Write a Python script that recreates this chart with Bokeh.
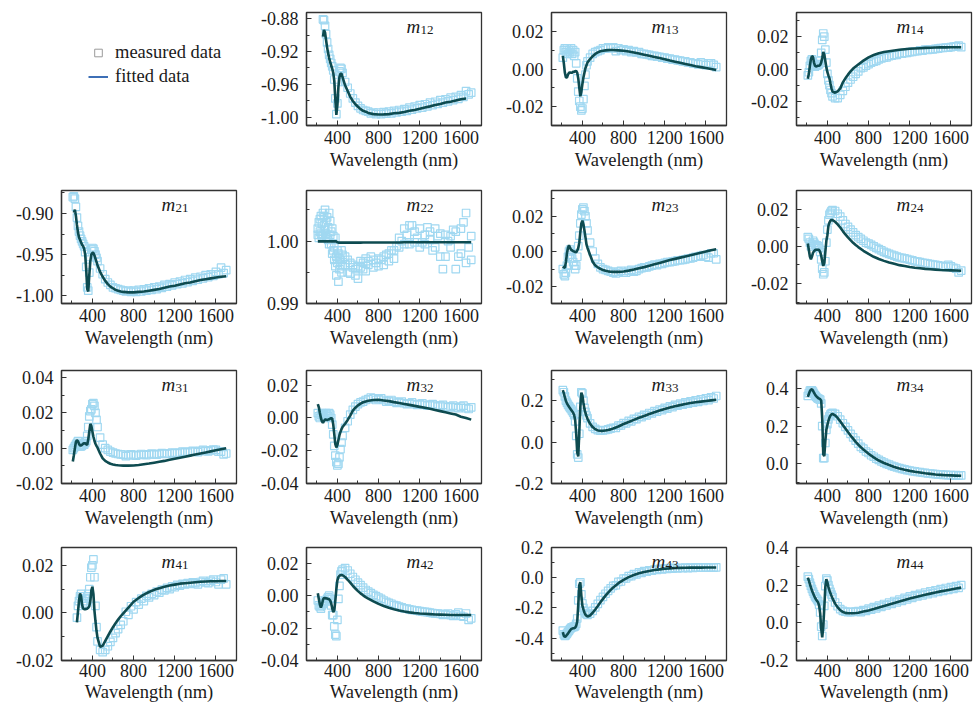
import math
from bokeh.plotting import figure
from bokeh.layouts import gridplot
from bokeh.models import FixedTicker, PrintfTickFormatter, Label, Legend, LegendItem, Range1d
from bokeh.embed import file_html
from bokeh.resources import INLINE

nan = float("nan")

wavelength = [210, 220, 230, 240, 250, 260, 270, 280, 290, 300, 310, 320, 330, 340, 350, 360, 370, 380, 390, 400,
              410, 420, 430, 440, 450, 475, 500, 525, 550, 575, 600, 625, 650, 675, 700, 750, 800, 850, 900, 950,
              1000, 1050, 1100, 1150, 1200, 1250, 1300, 1350, 1400, 1450, 1500, 1550, 1600, 1650, 1700]
wavelength_mid = [725, 775, 825, 875, 925, 975, 1025, 1075, 1125, 1175, 1225, 1275, 1325, 1375, 1425, 1475, 1525, 1575, 1625, 1675]

m12_fit = [nan, nan, nan, nan, nan, -0.902, -0.894, -0.897, -0.906, -0.915, -0.922, -0.928, -0.933, -0.937, -0.941, -0.946, -0.956, -0.978, -0.997, -0.985,
           -0.963, -0.951, -0.947, -0.947, -0.951, -0.961, -0.968, -0.975, -0.980, -0.984, -0.987, -0.990, -0.992, -0.993, -0.9945, -0.996, -0.9965, -0.9963, -0.996, -0.995,
           -0.9945, -0.9935, -0.992, -0.991, -0.9895, -0.988, -0.9866, -0.985, -0.9837, -0.982, -0.981, -0.9795, -0.978, -0.977, nan]
m12_meas = [nan, nan, nan, nan, nan, -0.881, -0.882, -0.889, -0.899, -0.909, -0.917, -0.924, -0.929, -0.934, -0.938, -0.943, -0.954, -0.977, -0.996, -0.983,
            -0.957, -0.944, -0.940, -0.941, -0.946, -0.957, -0.964, -0.971, -0.977, -0.982, -0.986, -0.989, -0.991, -0.992, -0.993, -0.994, -0.994, -0.9935, -0.993, -0.992,
            -0.991, -0.990, -0.988, -0.987, -0.985, -0.984, -0.982, -0.981, -0.979, -0.978, -0.976, -0.975, -0.973, -0.968, -0.970]
m12_mid = [-0.995, -0.996, -0.996, -0.9955, -0.995, -0.994, -0.993, -0.992, -0.9905, -0.989, -0.988, -0.9865, -0.985, -0.9835, -0.982, -0.9805, -0.979, -0.9775, -0.975, -0.972]

m13_fit = [0.007, 0.003, -0.002, -0.0045, -0.0045, -0.003, -0.002, -0.0018, -0.002, -0.002, -0.0015, -0.0015, -0.0012, -0.001, -0.002, -0.005, -0.010, -0.0145, -0.012, -0.008,
           -0.0045, -0.002, 0.0005, 0.002, 0.0035, 0.0053, 0.0068, 0.0080, 0.0088, 0.0094, 0.0097, 0.0099, 0.0100, 0.0101, 0.0101, 0.0099, 0.0097, 0.0093, 0.0088, 0.0082,
           0.0076, 0.0070, 0.0064, 0.0058, 0.0052, 0.0045, 0.0039, 0.0033, 0.0027, 0.0021, 0.0015, 0.0010, 0.0005, 0.0, -0.0005]
m13_meas = [0.006, 0.010, 0.011, 0.009, 0.011, 0.008, 0.010, 0.009, 0.011, 0.008, 0.010, 0.007, 0.009, 0.003, -0.005, -0.012, -0.017, -0.020, -0.022, -0.021,
            -0.016, -0.009, -0.003, 0.002, 0.004, 0.006, 0.008, 0.009, 0.0095, 0.010, 0.011, 0.011, 0.0115, 0.011, 0.0115, 0.011, 0.0105, 0.010, 0.0095, 0.009,
            0.008, 0.0075, 0.007, 0.0065, 0.006, 0.0055, 0.005, 0.0045, 0.004, 0.0035, 0.003, 0.0035, 0.002, 0.003, 0.001]
m13_mid = [0.0095, 0.0100, 0.0095, 0.0090, 0.0088, 0.0080, 0.0077, 0.0070, 0.0066, 0.0060, 0.0055, 0.0050, 0.0046, 0.0040, 0.0035, 0.0030, 0.0025, 0.0028, 0.0030, 0.0022]

m14_fit = [-0.006, -0.003, 0.002, 0.006, 0.008, 0.0075, 0.004, 0.002, 0.0015, 0.0018, 0.002, 0.002, 0.0025, 0.004, 0.007, 0.0105, 0.009, 0.005, 0.001, -0.002,
           -0.004, -0.0058, -0.009, -0.012, -0.014, -0.0147, -0.0138, -0.012, -0.0083, -0.0058, -0.0035, -0.0015, 0.0003, 0.0016, 0.0028, 0.0052, 0.0072, 0.0087, 0.0098, 0.0105,
           0.0110, 0.0115, 0.0119, 0.0122, 0.0125, 0.0127, 0.0129, 0.0131, 0.0132, 0.0133, 0.0134, 0.0134, 0.0135, 0.0135, 0.0135]
m14_meas = [-0.004, -0.002, 0.002, 0.005, 0.006, 0.004, 0.002, 0.0015, 0.002, 0.002, 0.0025, 0.003, 0.005, 0.010, 0.018, 0.022, 0.020, 0.012, 0.004, -0.003,
            -0.007, -0.010, -0.013, -0.015, -0.017, -0.018, -0.018, -0.016, -0.0135, -0.011, -0.0085, -0.0065, -0.0048, -0.003, -0.0015, 0.001, 0.003, 0.0045, 0.006, 0.007,
            0.008, 0.0088, 0.0095, 0.010, 0.0105, 0.011, 0.0115, 0.012, 0.0122, 0.0125, 0.013, 0.0133, 0.0135, 0.014, 0.0135]
m14_mid = [0.0005, 0.002, 0.004, 0.005, 0.0065, 0.0072, 0.0082, 0.0088, 0.0095, 0.0100, 0.0106, 0.0110, 0.0114, 0.0118, 0.0122, 0.0126, 0.0130, 0.0133, 0.0138, 0.0145]

m21_fit = [nan, -0.899, -0.8955, -0.903, -0.914, -0.923, -0.929, -0.932, -0.935, -0.938, -0.940, -0.943, -0.950, -0.968, -0.992, -0.995, -0.975, -0.958, -0.950, -0.948,
           -0.948, -0.951, -0.955, -0.959, -0.963, -0.971, -0.977, -0.982, -0.986, -0.989, -0.991, -0.993, -0.994, -0.995, -0.9955, -0.996, -0.996, -0.9955, -0.995, -0.994,
           -0.993, -0.992, -0.9905, -0.989, -0.988, -0.9865, -0.985, -0.984, -0.9825, -0.981, -0.980, -0.979, -0.978, -0.977, -0.9765]
m21_meas = [-0.880, -0.879, -0.882, -0.892, -0.905, -0.915, -0.922, -0.927, -0.931, -0.934, -0.937, -0.940, -0.947, -0.965, -0.990, -0.994, -0.972, -0.953, -0.944, -0.942,
            -0.943, -0.946, -0.950, -0.954, -0.958, -0.967, -0.974, -0.980, -0.984, -0.987, -0.990, -0.991, -0.992, -0.993, -0.994, -0.994, -0.994, -0.993, -0.9925, -0.991,
            -0.990, -0.989, -0.987, -0.986, -0.984, -0.983, -0.981, -0.980, -0.978, -0.977, -0.975, -0.974, -0.971, -0.966, -0.969]
m21_mid = [-0.995, -0.9955, -0.9955, -0.995, -0.994, -0.993, -0.992, -0.9905, -0.989, -0.9875, -0.986, -0.985, -0.9835, -0.982, -0.9805, -0.979, -0.9775, -0.976, -0.974, -0.9725]

m22_fit = [0.99995] * 19 + [0.9998] + [0.99975] * 12 + [0.99978] * 9 + [0.9998] * 14
m22_meas = [1.0010, 1.0030, 1.0015, 1.0040, 1.0008, 1.0045, 1.0025, 1.0050, 1.0012, 1.0038, 1.0002, 1.0045, 1.0010, 0.9995, 1.0020, 0.9985, 0.9990, 1.0005, 0.9975, 0.9965,
            0.9980, 0.9955, 0.9970, 0.9985, 0.9960, 0.9975, 0.9950, 0.9965, 0.9958, 0.9945, 0.9960, 0.9968, 0.9955, 0.9972, 0.9962, 0.9970, 0.9960, 0.9975, 0.9968, 0.9985,
            0.9990, 1.0020, 0.9995, 1.0015, 0.9990, 1.0010, 1.0002, 0.9990, 1.0012, 0.9975, 1.0008, 0.9955, 1.0020, 1.0045, 0.9970]
m22_meas_b = [1.0020, 1.0005, 1.0035, 1.0012, 1.0028, 1.0010, 1.0040, 1.0018, 1.0030, 1.0005, 1.0022, 0.9995, 1.0032, 1.0015, 0.9980, 1.0008, 0.9970, 0.9960, 0.9945, 0.9985,
              0.9935, 0.9972, 0.9962, 0.9950, 0.9978, 0.9962, 0.9970, 0.9948, 0.9962, 0.9955, 0.9940, 0.9958, 0.9965, 0.9952, 0.9968, 0.9958, 0.9972, 0.9962, 0.9980, 0.9972,
              1.0005, 0.9995, 1.0025, 0.9998, 1.0020, 0.9995, 1.0015, 1.0020, 0.9975, 1.0010, 0.9990, 1.0015, 0.9980, 0.9965, 1.0008]
m22_mid = [0.9975, 0.9965, 0.9970, 0.9978, 0.9985, 0.9992, 1.0000, 1.0010, 1.0025, 1.0005, 0.9998, 1.0022, 0.9985, 1.0008, 0.9955, 1.0000, 1.0018, 0.9975, 1.0030, 0.9990]

m23_fit = [-0.0085, -0.0090, -0.0092, -0.006, -0.001, 0.002, 0.0035, 0.002, 0.001, 0.0006, 0.0002, 0.0, -0.0003, -0.0004, 0.0005, 0.002, 0.005, 0.011, 0.016, 0.0175,
           0.0155, 0.012, 0.008, 0.004, 0.002, -0.002, -0.0058, -0.008, -0.009, -0.0099, -0.0105, -0.011, -0.0113, -0.0115, -0.0116, -0.0116, -0.0114, -0.0109, -0.0103, -0.0096,
           -0.0089, -0.0081, -0.0073, -0.0065, -0.0057, -0.0049, -0.0042, -0.0035, -0.0028, -0.0021, -0.0014, -0.0007, 0.0, 0.0007, 0.0013]
m23_meas = [-0.010, -0.013, -0.014, -0.012, -0.008, -0.003, 0.0, 0.001, -0.002, -0.004, -0.006, -0.008, -0.010, -0.008, -0.003, 0.003, 0.009, 0.016, 0.021, 0.024,
            0.025, 0.023, 0.020, 0.016, 0.012, 0.005, 0.000, -0.004, -0.007, -0.009, -0.010, -0.0105, -0.011, -0.0115, -0.012, -0.0115, -0.012, -0.011, -0.0115, -0.010,
            -0.009, -0.0085, -0.0075, -0.007, -0.0065, -0.006, -0.0055, -0.005, -0.0045, -0.004, -0.003, -0.0025, -0.003, -0.001, -0.0045]
m23_mid = [-0.0125, -0.0110, -0.0120, -0.0105, -0.0110, -0.0095, -0.0090, -0.0080, -0.0078, -0.0070, -0.0060, -0.0058, -0.0050, -0.0048, -0.0040, -0.0035, -0.0030, -0.0020, -0.0035, -0.0010]

m24_fit = [0.0015, -0.002, -0.0055, -0.007, -0.0055, -0.0035, -0.0027, -0.002, -0.0018, -0.0018, -0.0018, -0.002, -0.003, -0.005, -0.008, -0.0105, -0.009, -0.003, 0.003, 0.006,
           0.011, 0.0128, 0.0138, 0.0142, 0.0141, 0.0132, 0.0118, 0.0101, 0.0082, 0.0064, 0.0048, 0.0033, 0.0019, 0.0007, -0.0004, -0.0024, -0.0041, -0.0056, -0.0068, -0.0078,
           -0.0087, -0.0094, -0.0101, -0.0106, -0.0111, -0.0115, -0.0118, -0.0121, -0.0123, -0.0125, -0.0127, -0.0128, -0.0129, -0.0130, -0.0131]
m24_meas = [0.005, 0.004, 0.002, 0.0, 0.001, 0.003, 0.002, 0.001, 0.0, 0.0005, 0.0, -0.001, -0.003, -0.007, -0.012, -0.015, -0.014, -0.008, 0.002, 0.009,
            0.014, 0.017, 0.018, 0.019, 0.0195, 0.019, 0.0175, 0.016, 0.014, 0.012, 0.0105, 0.009, 0.0075, 0.006, 0.005, 0.003, 0.0015, 0.0, -0.0015, -0.003,
            -0.004, -0.005, -0.006, -0.0065, -0.0072, -0.008, -0.0085, -0.009, -0.0095, -0.010, -0.0105, -0.011, -0.0108, -0.012, -0.013]
m24_mid = [0.0040, 0.0020, 0.0008, -0.0008, -0.0022, -0.0035, -0.0045, -0.0055, -0.0062, -0.0068, -0.0075, -0.0082, -0.0088, -0.0092, -0.0098, -0.0102, -0.0108, -0.0100, -0.0115, -0.0140]

m31_fit = [-0.0075, -0.004, 0.0, 0.0035, 0.0045, 0.004, 0.0025, 0.0015, 0.0015, 0.002, 0.0025, 0.0028, 0.0028, 0.0022, 0.002, 0.005, 0.0095, 0.0138, 0.0125, 0.0095,
           0.0065, 0.0042, 0.0025, 0.0013, 0.0003, -0.003, -0.0058, -0.0072, -0.0081, -0.0088, -0.0092, -0.0095, -0.0097, -0.0098, -0.0099, -0.0099, -0.0098, -0.0095, -0.0091, -0.0087,
           -0.0082, -0.0077, -0.0072, -0.0066, -0.0060, -0.0054, -0.0048, -0.0042, -0.0036, -0.0030, -0.0024, -0.0018, -0.0012, -0.0006, 0.0]
m31_meas = [-0.001, 0.0, 0.001, 0.002, 0.003, 0.004, 0.002, 0.001, 0.001, 0.0015, 0.002, 0.002, 0.003, 0.004, 0.007, 0.012, 0.018, 0.021, 0.022, 0.025,
            0.0255, 0.024, 0.020, 0.016, 0.012, 0.006, 0.002, 0.0, -0.001, -0.002, -0.0025, -0.003, -0.0033, -0.0035, -0.0037, -0.004, -0.004, -0.0038, -0.0037, -0.0035,
            -0.0035, -0.0032, -0.003, -0.003, -0.0028, -0.0025, -0.0022, -0.002, -0.0018, -0.0015, -0.0015, -0.0012, -0.001, -0.002, -0.003]
m31_mid = [-0.0045, -0.0035, -0.0042, -0.0033, -0.0040, -0.0030, -0.0036, -0.0028, -0.0032, -0.0025, -0.0030, -0.0020, -0.0025, -0.0015, -0.0022, -0.0010, -0.0018, -0.0008, -0.0020, -0.0035]

m32_fit = [0.0085, 0.0065, 0.003, 0.0, -0.002, -0.003, -0.0018, -0.001, -0.001, -0.0012, -0.001, -0.0008, -0.0004, 0.0, -0.0005, -0.004, -0.010, -0.016, -0.018, -0.0165,
           -0.0135, -0.0105, -0.0085, -0.0068, -0.0055, -0.0035, -0.0012, 0.0015, 0.0045, 0.0063, 0.0077, 0.0088, 0.0096, 0.0101, 0.0105, 0.0110, 0.0111, 0.0107, 0.0103, 0.0097,
           0.0092, 0.0086, 0.0080, 0.0074, 0.0068, 0.0062, 0.0056, 0.0049, 0.0042, 0.0035, 0.0028, 0.0021, 0.0008, 0.0, -0.001]
m32_meas = [0.003, 0.001, 0.0, 0.002, 0.003, 0.001, 0.002, 0.0, 0.003, 0.002, 0.001, 0.003, 0.002, 0.0, -0.004, -0.010, -0.017, -0.023, -0.027, -0.029,
            -0.028, -0.024, -0.019, -0.015, -0.011, -0.006, -0.002, 0.002, 0.005, 0.007, 0.0085, 0.0095, 0.010, 0.011, 0.0115, 0.012, 0.0115, 0.011, 0.0105, 0.010,
            0.0095, 0.009, 0.009, 0.0085, 0.0085, 0.008, 0.008, 0.0075, 0.0075, 0.007, 0.007, 0.0065, 0.007, 0.006, 0.0065]
m32_mid = [0.0125, 0.0110, 0.0120, 0.0100, 0.0110, 0.0092, 0.0100, 0.0085, 0.0095, 0.0080, 0.0090, 0.0075, 0.0085, 0.0070, 0.0080, 0.0065, 0.0075, 0.0060, 0.0075, 0.0055]

m33_fit = [0.25, 0.235, 0.215, 0.198, 0.187, 0.178, 0.170, 0.163, 0.156, 0.149, 0.141, 0.130, 0.105, 0.04, -0.05, -0.07, 0.05, 0.17, 0.238, 0.225,
           0.19, 0.16, 0.14, 0.125, 0.112, 0.088, 0.072, 0.062, 0.056, 0.054, 0.054, 0.056, 0.058, 0.061, 0.065, 0.075, 0.087, 0.097, 0.107, 0.117,
           0.126, 0.135, 0.144, 0.152, 0.159, 0.166, 0.173, 0.178, 0.183, 0.188, 0.192, 0.195, 0.198, 0.201, 0.204]
m33_meas = [0.25, 0.24, 0.22, 0.20, 0.19, 0.18, 0.172, 0.165, 0.158, 0.15, 0.142, 0.13, 0.10, 0.03, -0.06, -0.075, 0.04, 0.17, 0.24, 0.235,
            0.20, 0.165, 0.145, 0.128, 0.115, 0.09, 0.073, 0.063, 0.057, 0.055, 0.056, 0.058, 0.061, 0.065, 0.069, 0.079, 0.091, 0.102, 0.112, 0.122,
            0.131, 0.140, 0.149, 0.157, 0.165, 0.172, 0.179, 0.185, 0.191, 0.196, 0.201, 0.206, 0.211, 0.216, 0.222]
m33_mid = [0.068, 0.080, 0.090, 0.100, 0.110, 0.120, 0.129, 0.138, 0.146, 0.154, 0.161, 0.168, 0.175, 0.180, 0.185, 0.190, 0.194, 0.198, 0.202, 0.210]

m34_fit = [0.355, 0.37, 0.385, 0.393, 0.395, 0.388, 0.377, 0.368, 0.36, 0.354, 0.349, 0.346, 0.343, 0.335, 0.24, 0.05, 0.04, 0.12, 0.18, 0.205,
           0.228, 0.245, 0.256, 0.263, 0.264, 0.257, 0.243, 0.225, 0.206, 0.187, 0.168, 0.150, 0.133, 0.116, 0.101, 0.075, 0.053, 0.034, 0.017, 0.004,
           -0.007, -0.017, -0.025, -0.032, -0.038, -0.043, -0.047, -0.051, -0.054, -0.057, -0.059, -0.061, -0.062, -0.063, -0.064]
m34_meas = [0.36, 0.375, 0.388, 0.39, 0.39, 0.383, 0.372, 0.363, 0.356, 0.35, 0.346, 0.343, 0.34, 0.32, 0.2, 0.03, 0.03, 0.11, 0.18, 0.21,
            0.235, 0.252, 0.262, 0.268, 0.27, 0.265, 0.252, 0.234, 0.215, 0.196, 0.177, 0.158, 0.14, 0.123, 0.107, 0.08, 0.057, 0.037, 0.02, 0.006,
            -0.005, -0.015, -0.023, -0.03, -0.036, -0.041, -0.045, -0.049, -0.052, -0.055, -0.057, -0.059, -0.06, -0.061, -0.062]
m34_mid = [0.090, 0.065, 0.045, 0.027, 0.012, -0.001, -0.011, -0.020, -0.027, -0.034, -0.039, -0.044, -0.048, -0.051, -0.054, -0.057, -0.059, -0.061, -0.062, -0.063]

m41_fit = [nan, nan, nan, nan, -0.004, 0.0005, 0.005, 0.0082, 0.007, 0.0035, 0.0018, 0.0016, 0.0016, 0.0017, 0.0018, 0.0022, 0.0028, 0.005, 0.0095, 0.011,
           0.008, 0.001, -0.0034, -0.0075, -0.0105, -0.0143, -0.0138, -0.0118, -0.0098, -0.0078, -0.006, -0.0043, -0.0028, -0.0014, -0.0002, 0.0022, 0.0047, 0.0063, 0.0077, 0.0088,
           0.0097, 0.0104, 0.0110, 0.0115, 0.0119, 0.0123, 0.0125, 0.0127, 0.0129, 0.0131, 0.0132, 0.0133, 0.0133, 0.0134, 0.0134]
m41_meas = [nan, nan, nan, nan, -0.002, 0.003, 0.005, 0.007, 0.008, 0.006, 0.004, 0.005, 0.006, 0.006, 0.007, 0.008, 0.010, 0.015, 0.019, 0.020,
            0.0225, 0.015, 0.003, -0.006, -0.012, -0.0155, -0.0165, -0.0155, -0.014, -0.0122, -0.0105, -0.0085, -0.0068, -0.005, -0.0035, -0.0008, 0.0015, 0.0035, 0.005, 0.0065,
            0.0075, 0.0085, 0.0095, 0.010, 0.0108, 0.0115, 0.012, 0.0122, 0.0125, 0.013, 0.0128, 0.0135, 0.013, 0.014, 0.012]
m41_mid = [0.0005, 0.0028, 0.0045, 0.0060, 0.0072, 0.0080, 0.0090, 0.0098, 0.0105, 0.0112, 0.0118, 0.0122, 0.0125, 0.0128, 0.0120, 0.0135, 0.0125, 0.0140, 0.0120, 0.0145]

m42_fit = [0.0015, -0.002, -0.0055, -0.0073, -0.0055, -0.0025, -0.0014, -0.0015, -0.0017, -0.0018, -0.002, -0.0022, -0.003, -0.0048, -0.0078, -0.0102, -0.009, -0.003, 0.004, 0.0095,
           0.0115, 0.0122, 0.0126, 0.0127, 0.0126, 0.0115, 0.0098, 0.0080, 0.0061, 0.0044, 0.0028, 0.0014, 0.0002, -0.0009, -0.0018, -0.0035, -0.0051, -0.0064, -0.0075, -0.0084,
           -0.0092, -0.0098, -0.0103, -0.0107, -0.0110, -0.0112, -0.0114, -0.0116, -0.0117, -0.0118, -0.0119, -0.0119, -0.0119, -0.0119, -0.0119]
m42_meas = [-0.003, -0.006, -0.007, -0.008, -0.006, -0.005, -0.004, -0.003, -0.0035, -0.002, -0.001, 0.0, -0.002, -0.006, -0.012, -0.012, -0.019, -0.024, -0.025, -0.015,
            -0.002, 0.006, 0.013, 0.015, 0.016, 0.017, 0.0155, 0.0135, 0.0115, 0.0098, 0.008, 0.0065, 0.005, 0.0035, 0.0025, 0.0005, -0.0012, -0.003, -0.0045, -0.0058,
            -0.0068, -0.0078, -0.0085, -0.009, -0.0095, -0.010, -0.0105, -0.011, -0.0112, -0.0115, -0.012, -0.0115, -0.0125, -0.011, -0.014]
m42_mid = [0.0015, -0.0003, -0.0020, -0.0038, -0.0050, -0.0062, -0.0072, -0.0080, -0.0088, -0.0092, -0.0098, -0.0102, -0.0108, -0.0110, -0.0118, -0.0110, -0.0125, -0.0105, -0.0130, -0.0150]

m43_fit = [-0.36, -0.385, -0.392, -0.387, -0.378, -0.37, -0.36, -0.35, -0.341, -0.337, -0.335, -0.334, -0.33, -0.318, -0.29, -0.18, -0.05, -0.03, -0.12, -0.185,
           -0.21, -0.23, -0.245, -0.252, -0.257, -0.25, -0.232, -0.21, -0.187, -0.163, -0.14, -0.119, -0.099, -0.081, -0.064, -0.036, -0.014, 0.004, 0.018, 0.03,
           0.038, 0.045, 0.051, 0.055, 0.059, 0.062, 0.064, 0.065, 0.066, 0.067, 0.067, 0.067, 0.068, 0.068, 0.068]
m43_meas = [-0.35, -0.375, -0.385, -0.38, -0.37, -0.36, -0.35, -0.34, -0.332, -0.328, -0.326, -0.325, -0.32, -0.305, -0.27, -0.15, -0.04, -0.03, -0.11, -0.17,
            -0.2, -0.22, -0.235, -0.242, -0.246, -0.238, -0.22, -0.197, -0.173, -0.149, -0.127, -0.106, -0.087, -0.07, -0.054, -0.027, -0.006, 0.011, 0.024, 0.035,
            0.043, 0.049, 0.054, 0.058, 0.061, 0.063, 0.065, 0.066, 0.067, 0.067, 0.068, 0.068, 0.068, 0.068, 0.069]
m43_mid = [-0.050, -0.025, -0.004, 0.010, 0.022, 0.032, 0.040, 0.046, 0.051, 0.055, 0.058, 0.060, 0.062, 0.063, 0.064, 0.065, 0.066, 0.066, 0.067, 0.067]

m44_fit = [0.24, 0.225, 0.205, 0.188, 0.172, 0.158, 0.145, 0.133, 0.124, 0.116, 0.108, 0.09, 0.05, -0.03, -0.077, -0.02, 0.08, 0.19, 0.232, 0.215,
           0.19, 0.172, 0.157, 0.143, 0.13, 0.102, 0.082, 0.067, 0.058, 0.053, 0.051, 0.051, 0.051, 0.052, 0.054, 0.06, 0.066, 0.073, 0.081, 0.089,
           0.097, 0.105, 0.113, 0.121, 0.129, 0.136, 0.143, 0.149, 0.155, 0.161, 0.167, 0.172, 0.177, 0.182, 0.187]
m44_meas = [0.245, 0.232, 0.213, 0.196, 0.18, 0.166, 0.153, 0.141, 0.132, 0.124, 0.115, 0.097, 0.055, -0.02, -0.07, -0.01, 0.09, 0.195, 0.235, 0.225,
            0.2, 0.18, 0.165, 0.15, 0.137, 0.108, 0.088, 0.073, 0.064, 0.059, 0.057, 0.057, 0.058, 0.06, 0.062, 0.068, 0.075, 0.083, 0.091, 0.1,
            0.108, 0.116, 0.124, 0.132, 0.14, 0.147, 0.154, 0.161, 0.167, 0.173, 0.179, 0.185, 0.19, 0.195, 0.2]
m44_mid = [0.057, 0.063, 0.070, 0.077, 0.085, 0.093, 0.101, 0.109, 0.117, 0.125, 0.133, 0.140, 0.146, 0.152, 0.158, 0.164, 0.170, 0.175, 0.180, 0.186]

x_ticks = [400, 800, 1200, 1600]
x_minor = [200, 600, 1000, 1400, 1800]

# key: fit, measured series on the main grid, measured series on the mid grid, y-range, y ticks, y minor ticks, format
panels = {
    "12": (m12_fit, [m12_meas], m12_mid, (-1.0098, -0.8727), [-1.00, -0.96, -0.92, -0.88], [-0.98, -0.94, -0.90], "%.2f"),
    "13": (m13_fit, [m13_meas], m13_mid, (-0.030, 0.030), [-0.02, 0.0, 0.02], [-0.03, -0.01, 0.01, 0.03], "%.2f"),
    "14": (m14_fit, [m14_meas], m14_mid, (-0.035, 0.035), [-0.02, 0.0, 0.02], [-0.03, -0.01, 0.01, 0.03], "%.2f"),
    "21": (m21_fit, [m21_meas], m21_mid, (-1.0096, -0.872), [-1.00, -0.95, -0.90], [-0.975, -0.925, -0.875], "%.2f"),
    "22": (m22_fit, [m22_meas, m22_meas_b], m22_mid, (0.99, 1.0081), [0.99, 1.00], [0.995, 1.005], "%.2f"),
    "23": (m23_fit, [m23_meas], m23_mid, (-0.0296, 0.0347), [-0.02, 0.0, 0.02], [-0.03, -0.01, 0.01, 0.03], "%.2f"),
    "24": (m24_fit, [m24_meas], m24_mid, (-0.0307, 0.030), [-0.02, 0.0, 0.02], [-0.03, -0.01, 0.01, 0.03], "%.2f"),
    "31": (m31_fit, [m31_meas], m31_mid, (-0.020, 0.044), [-0.02, 0.0, 0.02, 0.04], [-0.01, 0.01, 0.03], "%.2f"),
    "32": (m32_fit, [m32_meas], m32_mid, (-0.040, 0.029), [-0.04, -0.02, 0.0, 0.02], [-0.03, -0.01, 0.01], "%.2f"),
    "33": (m33_fit, [m33_meas], m33_mid, (-0.200, 0.345), [-0.2, 0.0, 0.2], [-0.1, 0.1, 0.3], "%.1f"),
    "34": (m34_fit, [m34_meas], m34_mid, (-0.105, 0.495), [0.0, 0.2, 0.4], [-0.1, 0.1, 0.3], "%.1f"),
    "41": (m41_fit, [m41_meas], m41_mid, (-0.020, 0.0275), [-0.02, 0.0, 0.02], [-0.01, 0.01], "%.2f"),
    "42": (m42_fit, [m42_meas], m42_mid, (-0.040, 0.0297), [-0.04, -0.02, 0.0, 0.02], [-0.03, -0.01, 0.01], "%.2f"),
    "43": (m43_fit, [m43_meas], m43_mid, (-0.548, 0.200), [-0.4, -0.2, 0.0, 0.2], [-0.5, -0.3, -0.1, 0.1], "%.1f"),
    "44": (m44_fit, [m44_meas], m44_mid, (-0.200, 0.400), [-0.2, 0.0, 0.2, 0.4], [-0.1, 0.1, 0.3], "%.1f"),
}

FONT = "Liberation Serif"
FIT_COLOR = "#0e4b50"
MEAS_COLOR = "#a0d8f1"
X_RANGE = (100, 1800)
FW, FH = 175, 113
TOPS = [12, 17, 19, 16]
BOTTOMS = [48, 48, 48, 0]


def borders(r, c):
    left = 61
    right = 9 if c < 3 else 5
    return left, right, TOPS[r], BOTTOMS[r]


def make_panel(r, c, key):
    fit, meas_list, meas_mid, yr, yt, ym, fmt = panels[key]
    left, right, top, bottom = borders(r, c)
    p = figure(frame_width=FW, frame_height=FH, output_backend="svg", toolbar_location=None,
               x_range=Range1d(*X_RANGE), y_range=Range1d(*yr),
               min_border_left=left, min_border_right=right, min_border_top=top, min_border_bottom=bottom)
    p.grid.visible = False
    p.outline_line_color = "#333333"
    p.outline_line_width = 1.3
    p.background_fill_color = "white"
    p.border_fill_color = "white"
    for meas in meas_list:
        p.scatter(wavelength, meas, marker="square", size=7.5, fill_color=None,
                  line_color=MEAS_COLOR, line_width=1.2)
    p.scatter(wavelength_mid, meas_mid, marker="square", size=7.5, fill_color=None,
              line_color=MEAS_COLOR, line_width=1.2)
    p.line(wavelength, fit, line_color=FIT_COLOR, line_width=2.6)

    p.xaxis.ticker = FixedTicker(ticks=x_ticks, minor_ticks=x_minor)
    p.yaxis.ticker = FixedTicker(ticks=yt, minor_ticks=ym)
    p.yaxis.formatter = PrintfTickFormatter(format=fmt)
    p.xaxis.formatter = PrintfTickFormatter(format="%d")
    for ax in (p.xaxis, p.yaxis):
        ax.major_tick_in = 5
        ax.major_tick_out = 0
        ax.minor_tick_in = 3
        ax.minor_tick_out = 0
        ax.axis_line_color = "#333333"
        ax.axis_line_width = 1.3
        ax.major_tick_line_color = "#333333"
        ax.minor_tick_line_color = "#333333"
        ax.major_label_text_font = FONT
        ax.major_label_text_font_size = "18px"
        ax.major_label_text_color = "#1a1a1a"
    p.xaxis.major_label_standoff = 5 if r < 3 else 3
    p.yaxis.major_label_standoff = 8
    p.xaxis.axis_label = "Wavelength (nm)"
    p.xaxis.axis_label_text_font = FONT
    p.xaxis.axis_label_text_font_size = "18.5px"
    p.xaxis.axis_label_text_font_style = "normal"
    p.xaxis.axis_label_text_color = "#1a1a1a"
    p.xaxis.axis_label_standoff = 3 if r < 3 else 2

    x0, x1 = X_RANGE
    y0, y1 = yr
    xl = x0 + (100.0 / FW) * (x1 - x0)
    yb = y1 - (14.0 / FH) * (y1 - y0)
    p.add_layout(Label(x=xl, y=yb, text="m", text_font=FONT, text_font_style="italic",
                       text_font_size="19px", text_color="#1a1a1a", text_baseline="alphabetic"))
    p.add_layout(Label(x=xl, y=yb, x_offset=14, y_offset=-3, text=key, text_font=FONT,
                       text_font_size="13px", text_color="#1a1a1a", text_baseline="alphabetic"))
    return p


legend_proxy_x = [0.0]
legend_proxy_y = [0.0]


def make_legend_cell():
    left, right, top, bottom = borders(0, 0)
    p = figure(frame_width=FW, frame_height=FH, output_backend="svg", toolbar_location=None,
               x_axis_location=None, y_axis_location=None,
               x_range=Range1d(1, 2), y_range=Range1d(1, 2),
               min_border_left=left, min_border_right=right, min_border_top=top, min_border_bottom=bottom)
    p.grid.visible = False
    p.outline_line_color = None
    r1 = p.scatter(legend_proxy_x, legend_proxy_y, marker="square", size=6, fill_color=None,
                   line_color="#9a9a9a", line_width=1)
    r2 = p.line(legend_proxy_x, legend_proxy_y, line_color="#3d6fb6", line_width=2)
    leg = Legend(items=[LegendItem(label="measured data", renderers=[r1]),
                        LegendItem(label="fitted data", renderers=[r2])],
                 location=(27, 38), label_text_font=FONT, label_text_font_size="18.5px",
                 label_text_color="#1a1a1a", glyph_width=20, glyph_height=19, label_height=19,
                 spacing=3, label_standoff=7, padding=0, margin=0,
                 border_line_color=None, background_fill_alpha=0)
    p.add_layout(leg, "center")
    return p


rows = []
for r in range(4):
    row = []
    for c in range(4):
        if r == 0 and c == 0:
            row.append(make_legend_cell())
        else:
            row.append(make_panel(r, c, f"{r + 1}{c + 1}"))
    rows.append(row)

grid = gridplot(rows, toolbar_location=None)
open("out.html", "w").write(file_html(grid, INLINE))
